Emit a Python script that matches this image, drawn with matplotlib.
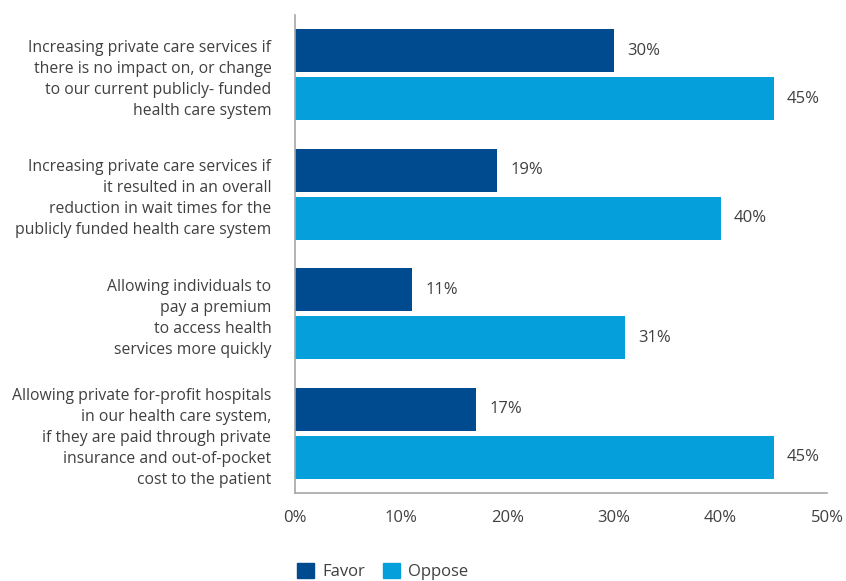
import matplotlib
matplotlib.use("Agg")
import matplotlib.pyplot as plt
from matplotlib.patches import Patch
import numpy as np

categories = [
    "Increasing private care services if\nthere is no impact on, or change\nto our current publicly- funded\nhealth care system",
    "Increasing private care services if\nit resulted in an overall\nreduction in wait times for the\npublicly funded health care system",
    "Allowing individuals to\npay a premium\nto access health\nservices more quickly",
    "Allowing private for-profit hospitals\nin our health care system,\nif they are paid through private\ninsurance and out-of-pocket\ncost to the patient",
]
favor = [30, 19, 11, 17]
oppose = [45, 40, 31, 45]
series_names = ["Favor", "Oppose"]
x_ticks = [0, 10, 20, 30, 40, 50]
x_tick_labels = ["0%", "10%", "20%", "30%", "40%", "50%"]

DARK = "#004a8f"
LIGHT = "#059fdb"
TEXT = "#404040"

plt.rcParams["font.family"] = ["Open Sans", "DejaVu Sans"]

fig = plt.figure(figsize=(8.46, 5.81), dpi=100)
ax = fig.add_axes([295 / 846, 1 - 493 / 581, 532 / 846, 478 / 581])

y = np.arange(len(categories))
h = 0.36
off = 0.2
ax.barh(y - off, favor, height=h, color=DARK)
ax.barh(y + off, oppose, height=h, color=LIGHT)

for yi, v in zip(y - off, favor):
    ax.text(v + 1.25, yi, f"{v}%", va="center", ha="left", fontsize=12, color=TEXT)
for yi, v in zip(y + off, oppose):
    ax.text(v + 1.25, yi, f"{v}%", va="center", ha="left", fontsize=12, color=TEXT)

ax.set_xlim(0, 50)
ax.set_ylim(3.5, -0.5)
ax.set_xticks(x_ticks)
ax.set_xticklabels(x_tick_labels, fontsize=12, color=TEXT)
ax.set_yticks(y)
ax.set_yticklabels(categories, fontsize=11.3, color=TEXT, linespacing=1.42)
ax.tick_params(axis="both", length=0)
ax.tick_params(axis="x", pad=12)
ax.tick_params(axis="y", pad=17)

for s in ("top", "right"):
    ax.spines[s].set_visible(False)
for s in ("left", "bottom"):
    ax.spines[s].set_color("#a6a6a6")
    ax.spines[s].set_linewidth(1.2)

handles = [Patch(color=DARK), Patch(color=LIGHT)]
fig.legend(handles, series_names, loc="lower left", bbox_to_anchor=(284 / 846, -0.022),
           ncol=2, frameon=False, fontsize=12, handlelength=1.0, handleheight=1.0,
           handletextpad=0.5, columnspacing=1.1, labelcolor=TEXT, borderpad=0.3)

fig.savefig("out.png", dpi=100)
